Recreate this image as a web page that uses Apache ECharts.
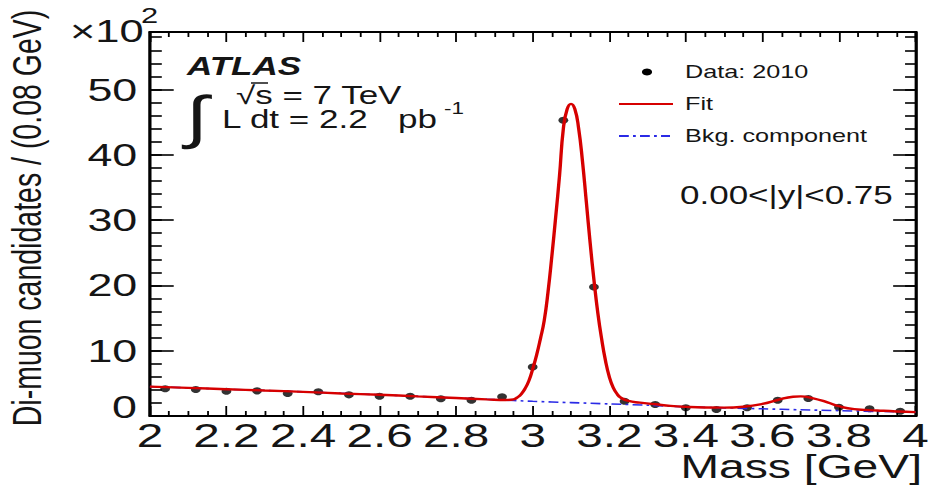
<!DOCTYPE html>
<html>
<head>
<meta charset="utf-8">
<script src="https://cdn.jsdelivr.net/npm/echarts@6/dist/echarts.min.js"></script>
<style>
html,body{margin:0;padding:0;background:#fff;overflow:hidden;}
#c{width:666px;height:486px;transform:scaleX(1.400901);transform-origin:0 0;}
</style>
</head>
<body>
<div id="c"></div>
<script>
// ---- data (values in units of 10^2 candidates per 0.08 GeV) ----
const massBins   = [2.04,2.12,2.20,2.28,2.36,2.44,2.52,2.60,2.68,2.76,2.84,2.92,3.00,3.08,3.16,3.24,3.32,3.40,3.48,3.56,3.64,3.72,3.80,3.88,3.96];
const dataCounts = [4.16,4.05,3.80,3.85,3.44,3.70,3.24,3.03,3.03,2.63,2.42,2.93,7.50,45.3,19.75,2.27,1.76,1.25,0.99,1.25,2.42,2.68,1.35,1.10,0.73];

const fitMass   = [2.00,2.10,2.20,2.30,2.40,2.50,2.60,2.70,2.80,2.88,2.93,2.95,2.96,2.97,2.98,2.99,3.00,3.01,3.02,3.03,3.04,3.05,3.06,3.07,3.08,3.09,3.10,3.11,3.12,3.13,3.14,3.15,3.16,3.17,3.18,3.19,3.20,3.21,3.22,3.23,3.25,3.28,3.32,3.36,3.40,3.45,3.50,3.55,3.60,3.64,3.68,3.70,3.73,3.77,3.80,3.84,3.90,3.95,4.00];
const fitValues = [4.50,4.30,4.10,3.90,3.70,3.45,3.25,3.00,2.75,2.55,2.45,2.55,2.85,3.35,4.20,5.40,7.20,9.30,11.8,14.6,19.0,24.5,30.5,36.8,44.0,47.0,47.8,47.0,44.0,39.0,32.8,26.5,20.8,15.8,11.8,8.50,6.00,4.40,3.40,2.80,2.30,2.05,1.80,1.55,1.40,1.30,1.28,1.42,1.85,2.45,2.95,3.00,2.75,2.10,1.50,1.05,0.85,0.70,0.60];

const bkgMass   = [2.0,2.2,2.4,2.6,2.8,2.9,3.0,3.1,3.2,3.3,3.4,3.5,3.6,3.7,3.8,3.9,4.0];
const bkgValues = [4.5,4.1,3.7,3.25,2.75,2.5,2.25,2.05,1.85,1.65,1.4,1.25,1.1,0.95,0.82,0.7,0.6];

const xTickStep = 0.2, yTickStep = 10, yMinorStep = 2;
const xMin = 2, xMax = 4, yMin = 0, yMax = 58.8;

const legendLabels = ['Data: 2010','Fit','Bkg. component'];
const rangeLabel = '0.00<|y|<0.75';

// ---- layout helpers ----
const S = 933/666;            // horizontal stretch of the reference
const X = px => px / S;       // reference x pixel -> chart x
const FONT = '"Liberation Sans", Arial, Helvetica, sans-serif';
const INK = '#151515';

const zip = (a,b) => a.map((v,i)=>[v,b[i]]);

const chart = echarts.init(document.getElementById('c'), null, {renderer:'svg'});

function lineOpt(){ return {show:true, onZero:false, lineStyle:{color:'#000', width:2}}; }
function yAx(pos, step, len, labels){
  return {
    type:'value', position:pos, min:yMin, max:yMax, interval:step,
    axisLine:lineOpt(),
    axisTick:{show:true, inside:true, length:len, lineStyle:{color:'#000', width:1.6}},
    splitLine:{show:false},
    axisLabel: labels ? {show:true, showMinLabel:false, showMaxLabel:false, margin:9, fontSize:32, fontFamily:FONT, color:INK} : {show:false}
  };
}
function xAx(pos, labels){
  return {
    type:'value', position:pos, min:xMin, max:xMax, interval:xTickStep,
    axisLine:lineOpt(),
    axisTick:{show:true, inside:true, length:10, lineStyle:{color:'#000', width:1.3}},
    minorTick:{show:true, splitNumber:4, length:5, lineStyle:{color:'#000', width:1.3}},
    splitLine:{show:false}, minorSplitLine:{show:false},
    axisLabel: labels ? {show:true, margin:2, fontSize:34, fontFamily:FONT, color:INK} : {show:false}
  };
}

const txt = (text, x, y, size, extra) => ({
  type:'text', x:x, y:y, silent:true,
  style:Object.assign({text:text, fontSize:size, fontFamily:FONT, fill:INK, align:'left', verticalAlign:'middle'}, extra||{})
});

chart.setOption({
  animation:false,
  backgroundColor:'#fff',
  grid:{left:107, right:8, top:32, bottom:70},
  xAxis:[xAx('bottom', true), xAx('top', false)],
  yAxis:[yAx('left', yTickStep, 17, true), yAx('left', yMinorStep, 8.5, false),
         yAx('right', yTickStep, 16, false), yAx('right', yMinorStep, 7.5, false)],
  series:[
    {name:legendLabels[2], type:'line', xAxisIndex:0, yAxisIndex:0, data:zip(bkgMass,bkgValues),
     showSymbol:false, smooth:0.3, lineStyle:{color:'#2a2ae6', width:1.6, type:[7,3,2,3]}},
    {name:legendLabels[1], type:'line', xAxisIndex:0, yAxisIndex:0, data:zip(fitMass,fitValues),
     showSymbol:false, smooth:0.5, lineStyle:{color:'#d60000', width:2.4}},
    {name:legendLabels[0], type:'scatter', xAxisIndex:0, yAxisIndex:0, data:zip(massBins,dataCounts),
     symbol:'circle', symbolSize:7, itemStyle:{color:'#000'}}
  ],
  graphic:[
    // y axis "0" label, raised as in the reference
    txt('0', X(137), 407, 32, {align:'right'}),
    // y axis title
    {type:'text', x:X(27), y:218, rotation:Math.PI/2, silent:true,
     style:{text:'Di-muon candidates / (0.08 GeV)', fontSize:28.5, fontFamily:FONT, fill:INK, align:'center', verticalAlign:'middle'}},
    // x axis title
    txt('Mass [GeV]', X(922), 467, 33, {align:'right'}),
    // exponent
    txt('\u00d710', X(70), 31, 31),
    txt('2', X(141), 16, 22),
    // ATLAS block
    txt('ATLAS', X(187), 66, 25, {fontWeight:'bold', fontStyle:'italic'}),
    txt('\u222b', X(186), 117, 58),
    txt('\u221as = 7 TeV', X(236), 95, 25),
    {type:'line', silent:true, shape:{x1:X(251), y1:83, x2:X(268), y2:83}, style:{stroke:INK, lineWidth:1.5}},
    txt('L dt = 2.2', X(222), 119, 25),
    txt('pb', X(398), 119, 25),
    txt('-1', X(444), 108, 16),
    // legend
    {type:'circle', silent:true, shape:{cx:X(647), cy:72, r:3.6}, style:{fill:'#000'}},
    txt(legendLabels[0], X(685), 72, 18),
    {type:'line', silent:true, shape:{x1:X(619), y1:104, x2:X(673), y2:104}, style:{stroke:'#d60000', lineWidth:1.8}},
    txt(legendLabels[1], X(685), 104, 18),
    {type:'line', silent:true, shape:{x1:X(619), y1:136, x2:X(670), y2:136}, style:{stroke:'#2a2ae6', lineWidth:1.8, lineDash:[7,3,2,3]}},
    txt(legendLabels[2], X(685), 136, 18),
    // rapidity range
    txt(rangeLabel, X(680), 195, 25)
  ]
});
</script>
</body>
</html>
